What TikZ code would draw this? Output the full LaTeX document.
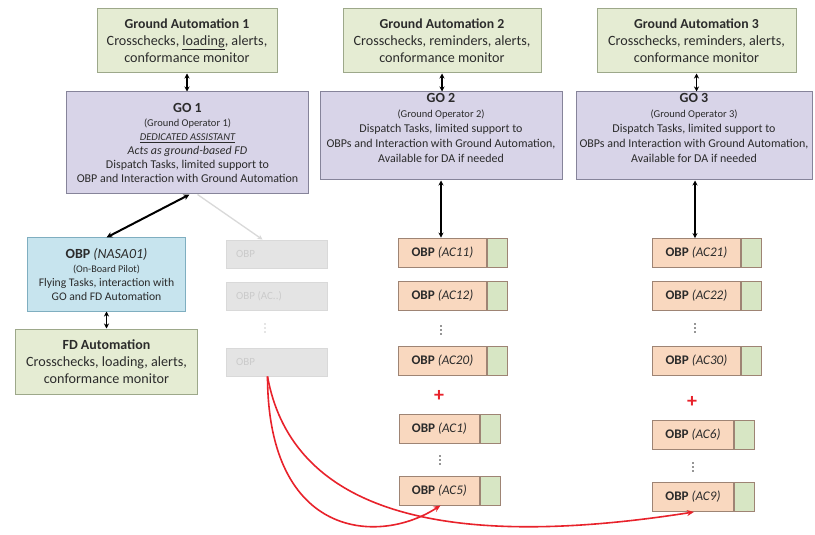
\documentclass[tikz,border=0pt]{standalone}
\usepackage{fontspec}
\setmainfont{Carlito}
\usetikzlibrary{arrows.meta}
\definecolor{gafill}{HTML}{E5ECD3}
\definecolor{gadraw}{HTML}{9DA88A}
\definecolor{gofill}{HTML}{D8D4E8}
\definecolor{godraw}{HTML}{86849A}
\definecolor{bluefill}{HTML}{C7E4EE}
\definecolor{bluedraw}{HTML}{7FAEC0}
\definecolor{orfill}{HTML}{F9D8BF}
\definecolor{ordraw}{HTML}{9E8474}
\definecolor{grfill}{HTML}{D7E6C4}
\definecolor{greyfill}{HTML}{E4E4E4}
\definecolor{greydraw}{HTML}{D9D9D9}
\definecolor{greytext}{HTML}{CBCBCB}
\definecolor{txt}{HTML}{2B2B2B}
\definecolor{redline}{HTML}{E8222B}
\begin{document}
\begin{tikzpicture}[x=1bp,y=-1bp,
  box/.style={draw, line width=1bp, inner sep=1bp, align=center, text=txt},
  ga/.style={box, fill=gafill, draw=gadraw, minimum height=64bp, font=\fontsize{14.2}{17}\selectfont},
  go/.style={box, fill=gofill, draw=godraw, font=\fontsize{12}{14}\selectfont},
  gotext/.style={align=center, text=txt, inner sep=1bp, font=\fontsize{12}{15}\selectfont},
  obp/.style={draw=ordraw, fill=orfill, line width=0.9bp, minimum height=29bp, inner sep=0pt, text=txt, font=\fontsize{13.2}{14}\selectfont},
  obpg/.style={draw=ordraw, fill=grfill, line width=0.9bp, minimum height=29bp, minimum width=20bp, inner sep=0pt},
  greybox/.style={draw=greydraw, fill=greyfill, line width=0.9bp, minimum width=101bp, minimum height=28bp, inner sep=0pt},
  greylbl/.style={text=greytext, inner sep=0pt, font=\fontsize{11}{12}\selectfont},
  plus/.style={inner sep=0pt, text=redline, font=\bfseries\fontsize{20}{20}\selectfont},
  dbl/.style={{Stealth[length=5bp,width=5bp]}-{Stealth[length=5bp,width=5bp]}, line width=1.3bp, draw=black},
  redarrow/.style={-{Stealth[length=7bp,width=6bp]}, line width=1.6bp, draw=redline}
]
\useasboundingbox (0,0) rectangle (815,535);
\fill[white] (0,0) rectangle (815,535);

% Ground automation boxes
\node[ga, minimum width=180bp] (ga1) at (187,41)
  {{\bfseries\fontsize{13.8}{17}\selectfont Ground Automation 1}\\Crosschecks, \underline{loading}, alerts,\\conformance monitor};
\node[ga, minimum width=198bp] (ga2) at (442,41)
  {{\bfseries\fontsize{13.8}{17}\selectfont Ground Automation 2}\\Crosschecks, reminders, alerts,\\conformance monitor};
\node[ga, minimum width=199bp] (ga3) at (696.5,41)
  {{\bfseries\fontsize{13.8}{17}\selectfont Ground Automation 3}\\Crosschecks, reminders, alerts,\\conformance monitor};

% Ground operators
\node[go, minimum width=241bp, minimum height=102bp] (go1) at (187.5,143)
  {{\bfseries\fontsize{14}{14}\selectfont GO 1}\\{\fontsize{10.5}{14}\selectfont (Ground Operator 1)}\\{\fontsize{10.5}{14}\selectfont\itshape\underline{DEDICATED ASSISTANT}}\\{\itshape Acts as ground-based FD}\\Dispatch Tasks, limited support to\\OBP and Interaction with Ground Automation};
\node[go, minimum width=242bp, minimum height=88bp] (go2) at (441,136) {};
\node[gotext, anchor=north] (go2t) at (441,92)
  {{\bfseries\fontsize{14}{15}\selectfont GO 2}\\{\fontsize{10.5}{14}\selectfont (Ground Operator 2)}\\Dispatch Tasks, limited support to\\OBPs and Interaction with Ground Automation,\\Available for DA if needed};
\node[go, minimum width=236bp, minimum height=88bp] (go3) at (694,136) {};
\node[gotext, anchor=north] (go3t) at (694,92)
  {{\bfseries\fontsize{14}{15}\selectfont GO 3}\\{\fontsize{10.5}{14}\selectfont (Ground Operator 3)}\\Dispatch Tasks, limited support to\\OBPs and Interaction with Ground Automation,\\Available for DA if needed};

% Column 1
\node[box, fill=bluefill, draw=bluedraw, minimum width=157bp, minimum height=73bp, font=\fontsize{11.7}{14}\selectfont] (nasa) at (106.5,274.5)
  {{\fontsize{14}{14}\selectfont\textbf{OBP} \textit{(NASA01)}}\\{\fontsize{10.2}{14}\selectfont (On-Board Pilot)}\\Flying Tasks, interaction with\\GO and FD Automation};
\node[ga, minimum width=181bp, minimum height=65bp] (fd) at (106.5,361.5)
  {{\bfseries\fontsize{14}{17}\selectfont FD Automation}\\Crosschecks, loading, alerts,\\conformance monitor};

% Faded column
\node[greybox] (grey1) at (276.5,254) {};
\node[greylbl, anchor=west] (grey1t) at (236,254) {OBP};
\node[greybox] (grey2) at (276.5,296.5) {};
\node[greylbl, anchor=west] (grey2t) at (236,296.5) {OBP (AC..)};
\node[greybox] (grey3) at (276.5,362) {};
\node[greylbl, anchor=west] (grey3t) at (236,362) {OBP};
\foreach \yy in {324,328,332} \fill[greytext] (265,\yy) circle (0.9bp);

% Column 2
\node[obp, minimum width=88bp, anchor=west] (ac11) at (398,252.5) {\textbf{OBP} \textit{(AC11)}};
\node[obpg, anchor=west] (ac11g) at (ac11.east) {};
\node[obp, minimum width=88bp, anchor=west] (ac12) at (398,295.5) {\textbf{OBP} \textit{(AC12)}};
\node[obpg, anchor=west] (ac12g) at (ac12.east) {};
\node[obp, minimum width=88bp, anchor=west] (ac20) at (398,361) {\textbf{OBP} \textit{(AC20)}};
\node[obpg, anchor=west] (ac20g) at (ac20.east) {};
\node[plus] (p2) at (439,396) {+};
\node[obp, minimum width=80bp, anchor=west] (ac1) at (399,428.5) {\textbf{OBP} \textit{(AC1)}};
\node[obpg, anchor=west] (ac1g) at (ac1.east) {};
\node[obp, minimum width=80bp, anchor=west] (ac5) at (399,490.5) {\textbf{OBP} \textit{(AC5)}};
\node[obpg, anchor=west] (ac5g) at (ac5.east) {};
\foreach \yy in {326,330,334} \fill[txt] (441,\yy) circle (0.9bp);
\foreach \yy in {456,460,464} \fill[txt] (440,\yy) circle (0.9bp);

% Column 3
\node[obp, minimum width=88bp, anchor=west] (ac21) at (652,253) {\textbf{OBP} \textit{(AC21)}};
\node[obpg, anchor=west] (ac21g) at (ac21.east) {};
\node[obp, minimum width=88bp, anchor=west] (ac22) at (652,296) {\textbf{OBP} \textit{(AC22)}};
\node[obpg, anchor=west] (ac22g) at (ac22.east) {};
\node[obp, minimum width=88bp, anchor=west] (ac30) at (652,361) {\textbf{OBP} \textit{(AC30)}};
\node[obpg, anchor=west] (ac30g) at (ac30.east) {};
\node[plus] (p3) at (692,402) {+};
\node[obp, minimum width=81bp, anchor=west] (ac6) at (652,435) {\textbf{OBP} \textit{(AC6)}};
\node[obpg, anchor=west] (ac6g) at (ac6.east) {};
\node[obp, minimum width=81bp, anchor=west] (ac9) at (652,497) {\textbf{OBP} \textit{(AC9)}};
\node[obpg, anchor=west] (ac9g) at (ac9.east) {};
\foreach \yy in {324,328,332} \fill[txt] (695,\yy) circle (0.9bp);
\foreach \yy in {463,467,471} \fill[txt] (693,\yy) circle (0.9bp);

% Connectors
\draw[dbl] (ga1.south) -- (ga1.south |- go1.north);
\draw[dbl] (ga2.south) -- (ga2.south |- go2.north);
\draw[dbl] (ga3.south) -- (ga3.south |- go3.north);
\draw[dbl] (go2.south) -- (go2.south |- ac11.north);
\draw[dbl] ([xshift=1bp]go3.south) -- ([xshift=1bp]go3.south |- ac21.north);
\draw[{Stealth[length=6bp,width=6bp]}-{Stealth[length=6bp,width=6bp]}, line width=2bp] ([xshift=2bp]go1.south) -- (nasa.north);
\draw[-{Stealth[length=5bp,width=5bp]}, line width=1.3bp, draw=greydraw] ([xshift=10bp]go1.south) -- ([xshift=-14bp]grey1.north);
\draw[dbl] (nasa.south) -- (fd.north);
\draw[redarrow] ([xshift=-9bp]grey3.south) .. controls (268,540) and (380,545) .. ([xshift=1bp]ac5.south);
\draw[redarrow] ([xshift=-9bp]grey3.south) .. controls (290,500) and (420,555) .. ([xshift=1bp]ac9.south);
\end{tikzpicture}
\end{document}
